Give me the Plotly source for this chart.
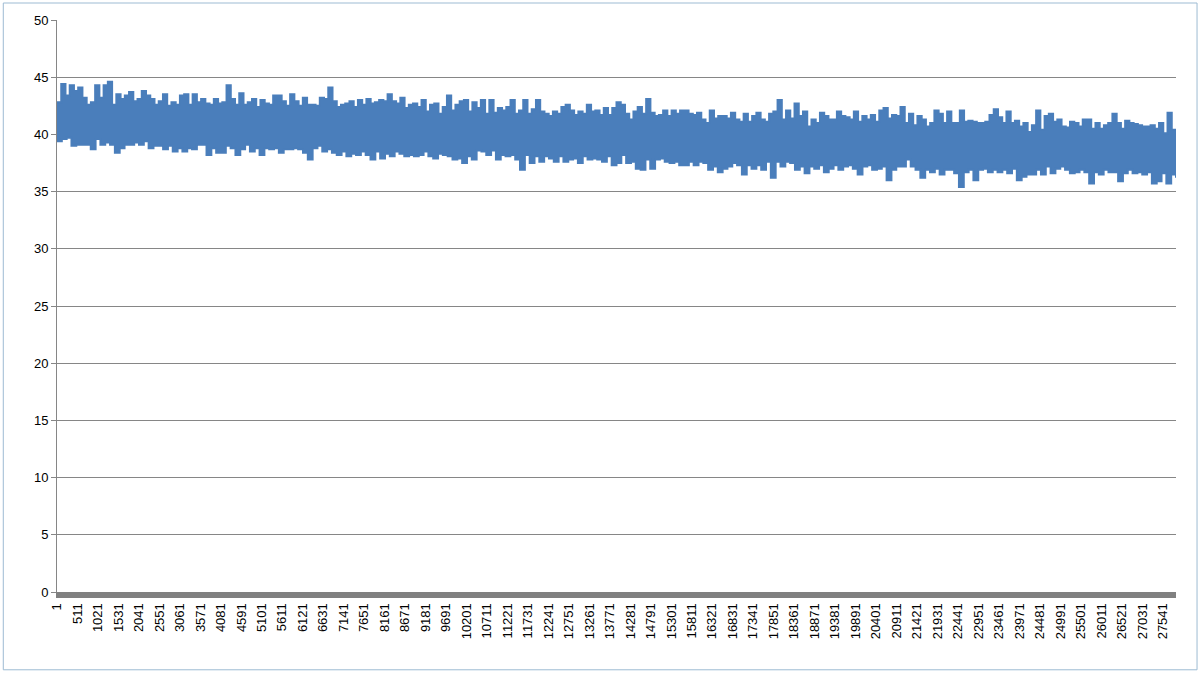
import numpy as np
import plotly.graph_objects as go

# readings count (category axis 1 .. n_readings)
n_readings = 27870

# upper edge of the noisy band, read left to right off the picture
upper_vals = [
    42.8, 44.4, 43.4, 44.3, 43.8, 44.1, 43.2, 42.6, 42.8, 44.3, 43.2, 44.3, 44.6, 42.6, 43.5, 43.1,
    43.4, 43.7, 42.9, 43.1, 43.8, 43.4, 43.1, 42.6, 42.9, 43.5, 42.5, 42.8, 42.6, 43.4, 43.5,
    42.6, 43.5, 42.8, 43.1, 42.7, 42.6, 43.1, 42.7, 42.8, 44.3, 43.1, 42.6, 43.6, 42.6, 42.8, 43.1,
    42.4, 43.0, 42.7, 42.6, 43.4, 43.4, 42.9, 42.5, 43.5, 42.9, 42.5, 43.2, 42.6, 42.6, 42.5, 43.2,
    43.1, 44.1,
    42.9, 42.4, 42.6, 42.7, 42.9, 42.4, 43.0, 42.6, 43.1, 42.7, 42.8, 43.0, 42.9, 43.5, 42.9, 42.7,
    43.2, 42.3, 42.6, 42.7, 42.4, 43.0, 42.0, 42.6, 42.7, 41.8, 42.4, 43.4, 42.1, 42.6,
    42.9, 43.0, 42.0, 42.8, 42.3, 43.0, 41.8, 43.0, 41.9, 42.3, 42.1, 42.4, 43.0, 41.8, 42.1, 43.0,
    41.8, 42.2, 43.0, 42.0, 41.8, 41.6, 42.0, 41.8, 42.4, 42.6, 42.1, 41.7, 42.0, 41.8, 42.6, 42.0,
    42.1,
    41.7, 42.3, 41.7, 42.3, 42.8, 42.6, 41.8, 41.3, 42.0, 42.4, 41.8, 43.1, 41.9, 41.6, 41.7, 42.1,
    41.6, 42.1, 41.8, 42.1, 42.1, 41.8, 41.7, 41.9, 41.3, 41.0, 42.1, 41.4, 41.6, 41.6, 41.4, 41.9,
    41.3,
    41.1, 41.8, 41.1, 41.6, 41.9, 41.3, 41.1, 41.8, 42.0, 43.0, 41.3, 42.1, 41.4, 42.7, 41.6, 42.0,
    40.7, 41.3, 41.0, 41.9, 41.6, 41.3, 41.3, 42.0, 41.6, 41.5, 41.3, 42.0, 41.1, 41.6, 41.3, 41.7,
    41.1, 42.1,
    42.3, 41.4, 41.7, 41.6, 42.4, 41.0, 41.8, 40.8, 41.6, 41.3, 40.7, 41.0, 42.1, 41.8, 41.0, 42.0,
    41.0, 41.0, 42.1, 41.1, 41.2, 41.1, 41.0, 41.0, 41.1, 41.7, 42.2, 41.5, 41.0, 42.0, 41.0, 41.2,
    40.7, 41.0, 40.2,
    40.8, 42.1, 40.4, 41.6, 41.8, 41.1, 41.3, 40.7, 40.6, 41.1, 41.0, 40.7, 41.3, 41.3, 40.5, 41.0,
    40.5, 40.8, 41.0, 41.8, 41.0, 40.5, 41.2, 41.0, 40.9, 40.8, 40.7, 40.7, 40.8, 40.5, 41.0, 40.1,
    41.9, 40.4, 40.4,
]

# lower edge of the band
lower_vals = [
    39.4, 39.6, 39.7, 39.0, 39.1, 39.1, 39.1, 38.7, 39.6, 39.1, 39.3, 39.1, 38.4, 38.8, 39.1, 39.1,
    39.3, 39.1, 39.4, 38.8, 39.0, 39.0, 38.7, 39.0, 38.5, 38.8, 38.5, 38.8, 38.7,
    39.1, 39.1, 38.2, 38.8, 38.4, 38.4, 39.0, 38.8, 38.2, 38.7, 39.1, 38.5, 38.8, 38.2, 38.8, 38.7,
    38.8, 38.4, 38.7, 38.7, 38.8, 38.7, 38.4, 37.8, 38.8, 39.0, 38.5, 38.7, 38.4, 38.2,
    38.5, 38.1, 38.3, 38.2, 38.5, 38.2, 37.8, 38.5, 37.9, 38.3, 38.1, 38.5, 38.3, 38.1, 38.2, 38.1,
    38.2, 38.5, 38.1, 37.9, 38.3, 38.2, 38.1, 37.8, 37.9, 37.5, 38.1, 37.8,
    38.6, 38.5, 38.2, 38.6, 37.8, 38.2, 38.1, 38.2, 37.8, 36.9, 38.2, 37.5, 38.1, 37.6, 38.1, 37.9,
    37.6, 38.1, 37.6, 37.8, 37.9, 37.5, 38.1, 37.8, 37.9, 37.8, 37.6, 38.1, 37.3,
    37.5, 38.2, 37.5, 37.6, 37.0, 36.9, 37.8, 37.0, 37.8, 37.9, 37.6, 37.5, 37.6, 37.3, 37.3, 37.6,
    37.3, 37.6, 37.5, 36.9, 37.2, 36.7, 37.0, 37.2, 37.5, 37.3, 36.5, 37.3, 37.0,
    37.3, 36.9, 37.6, 36.2, 37.6, 37.2, 37.6, 37.5, 36.9, 37.2, 36.6, 37.2, 37.0, 37.3, 36.7, 37.0,
    37.3, 36.9, 37.2, 37.3, 37.0, 36.5, 37.2, 37.3, 36.9, 37.0, 37.2, 36.0, 36.9, 37.2,
    37.2, 37.8, 37.2, 36.9, 36.2, 36.9, 36.7, 37.0, 36.5, 36.9, 36.9, 36.6, 35.4, 36.7, 36.9, 36.0,
    36.9, 37.0, 36.7, 36.9, 36.7, 36.9, 36.6, 37.0, 36.0, 36.3, 36.5, 36.5, 36.9,
    36.5, 37.2, 36.6, 37.0, 37.2, 36.9, 36.6, 36.7, 36.9, 36.7, 35.7, 36.7, 36.5, 36.9, 36.7, 36.7,
    35.9, 36.6, 36.9, 36.6, 36.7, 36.5, 36.7, 35.7, 35.9, 36.6, 35.7, 36.5, 36.2,
]

tick_vals = list(range(1, 27542, 510))
tick_text = [str(v) for v in tick_vals]

blue = "#4A7EBB"
x_up = np.linspace(1, n_readings, len(upper_vals))
x_lo = np.linspace(1, n_readings, len(lower_vals))

fig = go.Figure()
fig.add_trace(go.Scatter(x=x_up, y=upper_vals, mode="lines", line=dict(color=blue, width=2, shape="hv"),
                         hoverinfo="skip", showlegend=False))
fig.add_trace(go.Scatter(x=x_lo, y=lower_vals, mode="lines", line=dict(color=blue, width=2, shape="hv"),
                         fill="tonexty", fillcolor=blue, hoverinfo="skip", showlegend=False))

fig.update_layout(
    width=1201, height=674,
    margin=dict(l=57, r=25, t=20, b=82),
    paper_bgcolor="white", plot_bgcolor="white",
    font=dict(family="Liberation Sans", size=13, color="black"),
    showlegend=False,
)
fig.update_xaxes(
    range=[1, n_readings], tickmode="array", tickvals=tick_vals, ticktext=tick_text,
    tickangle=-90, showgrid=False, zeroline=False,
    showline=True, linecolor="#808080", linewidth=6,
    ticks="", tickfont=dict(size=13),
)
fig.update_yaxes(
    range=[0, 50], dtick=5, showgrid=True, gridcolor="#868686", gridwidth=1,
    zeroline=False, showline=True, linecolor="#868686", linewidth=1,
    ticks="outside", ticklen=5, tickcolor="#868686", tickfont=dict(size=13),
)

# chart area frame
fig.add_shape(type="rect", xref="paper", yref="paper", x0=-0.048, x1=1.0188, y0=-0.136, y1=1.0297,
              line=dict(color="#9DBBD3", width=1), layer="below")

fig.write_html("out.html", config={"displayModeBar": False},
               post_script="document.body.style.margin='0';")
